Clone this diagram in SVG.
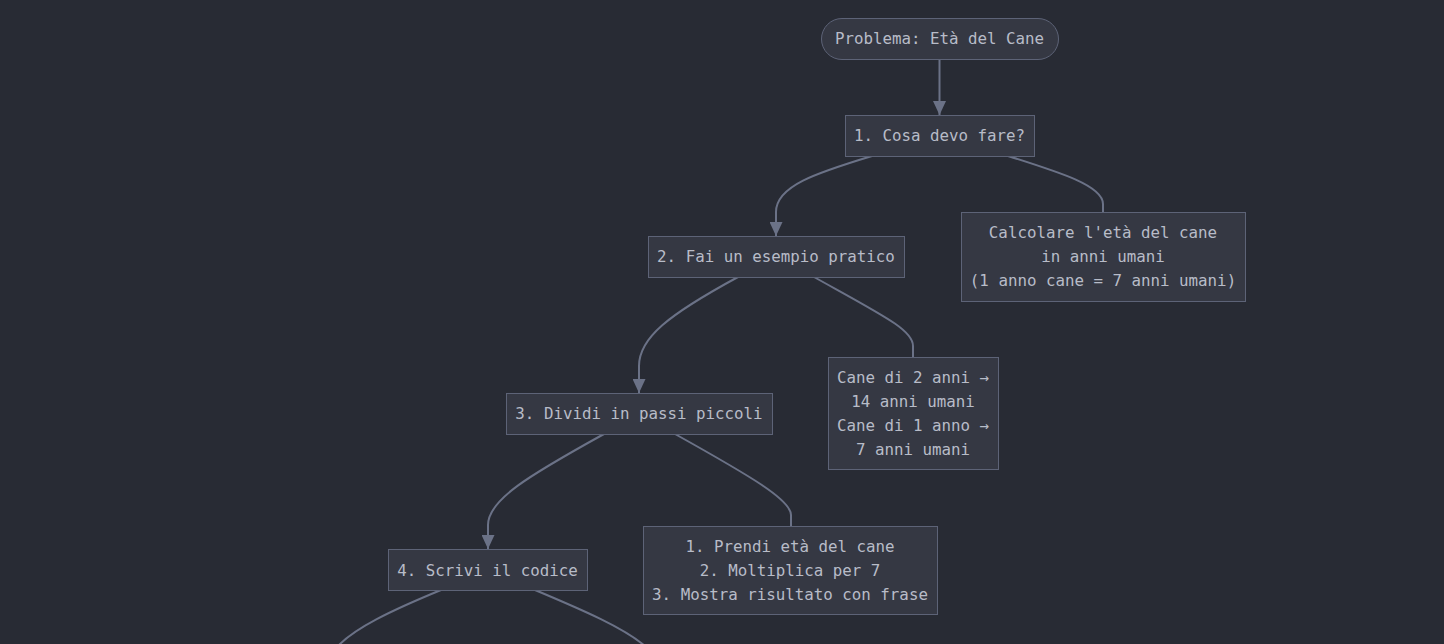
<svg xmlns="http://www.w3.org/2000/svg" width="1444" height="644" viewBox="0 0 1444 644">
<style>
.bg{fill:#282b34}
.node rect{fill:#353843;stroke:#5d6377;stroke-width:1}
.node text{font-family:"DejaVu Sans Mono","Liberation Mono",monospace;font-size:15.8px;fill:#b8bcc8;text-anchor:middle;dominant-baseline:central}
.edge{fill:none;stroke:#6b7287;stroke-width:2}
</style>
<defs>
<marker id="arr" markerUnits="userSpaceOnUse" viewBox="0 0 14 13" refX="14" refY="6.5" markerWidth="14" markerHeight="13" orient="auto">
<path d="M0,0 L14,6.5 L0,13 z" fill="#6b7287"/>
</marker>
</defs>
<rect class="bg" x="0" y="0" width="1444" height="644"/>
<g id="connectors">
<path class="edge" d="M939.5,59 L939.5,115" marker-end="url(#arr)"/>
<path class="edge" d="M872,156 C816,173 776,186 776,212 L776,236" marker-end="url(#arr)"/>
<path class="edge" d="M1008,156 C1062,173 1103,186 1103,204 L1103,212"/>
<path class="edge" d="M738,277 C668,315 639,338 639,366 L639,393" marker-end="url(#arr)"/>
<path class="edge" d="M814,277 C884,316 913,330 913,346 L913,357"/>
<path class="edge" d="M604,434 C528,476 488,500 488,525 L488,549" marker-end="url(#arr)"/>
<path class="edge" d="M675,434 C752,477 791,500 791,515 L791,526"/>
<path class="edge" d="M441,590 C390,611 355,628 338,646"/>
<path class="edge" d="M535,590 C585,611 624,628 645,646"/>
</g>
<g id="start" class="node">
<rect x="821.5" y="18.5" width="237" height="41" rx="20.5" ry="20.5"/>
<text x="939.5" y="38.5">Problema: Età del Cane</text>
</g>
<g id="step1" class="node">
<rect x="845.5" y="115.5" width="189" height="41"/>
<text x="939.5" y="135.5">1. Cosa devo fare?</text>
</g>
<g id="calc" class="node">
<rect x="961.5" y="212.5" width="284" height="89"/>
<text x="1103" y="232.5">Calcolare l'età del cane</text>
<text x="1103" y="256.5">in anni umani</text>
<text x="1103" y="280.5">(1 anno cane = 7 anni umani)</text>
</g>
<g id="step2" class="node">
<rect x="648.5" y="236.5" width="256" height="41"/>
<text x="776" y="256.5">2. Fai un esempio pratico</text>
</g>
<g id="example" class="node">
<rect x="828.5" y="357.5" width="170" height="112"/>
<text x="913" y="377.5">Cane di 2 anni →</text>
<text x="913" y="401.5">14 anni umani</text>
<text x="913" y="425.5">Cane di 1 anno →</text>
<text x="913" y="449.5">7 anni umani</text>
</g>
<g id="step3" class="node">
<rect x="506.5" y="393.5" width="266" height="41"/>
<text x="639" y="413.5">3. Dividi in passi piccoli</text>
</g>
<g id="steps" class="node">
<rect x="643.5" y="526.5" width="294" height="88"/>
<text x="790" y="546.5">1. Prendi età del cane</text>
<text x="790" y="570.5">2. Moltiplica per 7</text>
<text x="790" y="594.5">3. Mostra risultato con frase</text>
</g>
<g id="step4" class="node">
<rect x="388.5" y="549.5" width="199" height="41"/>
<text x="487.5" y="570">4. Scrivi il codice</text>
</g>
</svg>
